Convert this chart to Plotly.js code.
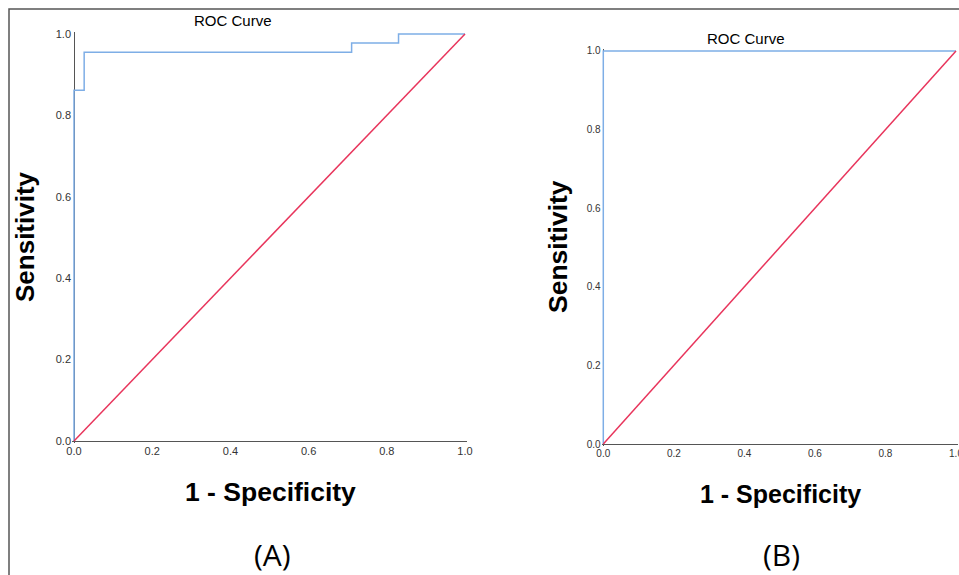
<!DOCTYPE html>
<html>
<head>
<meta charset="utf-8">
<script src="https://cdn.plot.ly/plotly-3.0.1.min.js"></script>
<style>html,body{margin:0;padding:0;background:#fff;}#chart{width:959px;height:575px;}</style>
</head>
<body>
<div id="chart"></div>
<script>
// ---- data ----
var panelLabels = ["(A)", "(B)"];
var chartTitle = "ROC Curve";
var xTitle = "1 - Specificity";
var yTitle = "Sensitivity";
var tickVals = [0, 0.2, 0.4, 0.6, 0.8, 1.0];

// Panel A ROC (step curve, drawn with 'hv')
var rocA_fpr = [0, 0, 0.026, 0.71, 0.83, 1.0];
var rocA_tpr = [0, 0.862, 0.955, 0.978, 1.0, 1.0];
// Panel B ROC
var rocB_fpr = [0, 0, 1.0];
var rocB_tpr = [0, 1.0, 1.0];
// Reference (chance) line
var ref_x = [0, 1];
var ref_y = [0, 1];

// ---- layout helpers ----
var W = 959, H = 575, PAD = 0.005;
function px(x) { return x / W; }
function py(y) { return 1 - y / H; }
// domain from pixel positions of value 0 and value 1
function xdom(p0, p1) { var s = p1 - p0; return [px(p0 - PAD * s), px(p1 + PAD * s)]; }
function ydom(p0, p1) { var s = p0 - p1; return [py(p0 + PAD * s), py(p1 - PAD * s)]; }

var blue = "#7eaee6", red = "#e8355c", axisCol = "#555555";

function axis(dom, anchor, fs) {
  return {
    domain: dom, anchor: anchor, range: [-PAD, 1 + PAD],
    showgrid: false, zeroline: true, zerolinecolor: axisCol, zerolinewidth: 1,
    showline: false, ticks: "", tickvals: tickVals, tickformat: ".1f",
    ticklabeloverflow: "allow",
    tickfont: {family: "Liberation Sans, Arial, sans-serif", size: fs, color: "#333"},
    fixedrange: true
  };
}

var traces = [
  {x: rocA_fpr, y: rocA_tpr, xaxis: "x", yaxis: "y", mode: "lines",
   line: {color: blue, width: 1.5, shape: "hv"}, hoverinfo: "skip"},
  {x: ref_x, y: ref_y, xaxis: "x", yaxis: "y", mode: "lines",
   line: {color: red, width: 1.5}, hoverinfo: "skip"},
  {x: rocB_fpr, y: rocB_tpr, xaxis: "x2", yaxis: "y2", mode: "lines",
   line: {color: blue, width: 1.5, shape: "hv"}, hoverinfo: "skip"},
  {x: ref_x, y: ref_y, xaxis: "x2", yaxis: "y2", mode: "lines",
   line: {color: red, width: 1.5}, hoverinfo: "skip"}
];

function ann(text, x, y, size, bold, opts) {
  var a = {text: bold ? "<b>" + text + "</b>" : text, xref: "paper", yref: "paper",
    x: px(x), y: py(y), xanchor: "center", yanchor: "middle", showarrow: false,
    font: {family: "Liberation Sans, Arial, sans-serif", size: size, color: "#000"}};
  if (opts) for (var k in opts) a[k] = opts[k];
  return a;
}

var layout = {
  width: W, height: H, margin: {l: 0, r: 0, t: 0, b: 0},
  paper_bgcolor: "#fff", plot_bgcolor: "#fff", showlegend: false,
  xaxis: axis(xdom(74, 465), "y", 11),
  yaxis: axis(ydom(441, 34), "x", 11),
  xaxis2: axis(xdom(603.3, 956), "y2", 10),
  yaxis2: axis(ydom(444, 51), "x2", 10),
  annotations: [
    ann(chartTitle, 233, 20, 15, false),
    ann(chartTitle, 746, 38, 15, false),
    ann(xTitle, 270, 492, 26.5, true),
    ann(yTitle, 25, 237, 26, true, {textangle: -90}),
    ann(xTitle, 780, 494, 25, true),
    ann(yTitle, 558, 247, 26.5, true, {textangle: -90}),
    ann(panelLabels[0], 272, 554, 30, false, {font: {family: "Open Sans, sans-serif", size: 30, color: "#000"}}),
    ann(panelLabels[1], 781, 554, 30, false, {font: {family: "Open Sans, sans-serif", size: 30, color: "#000"}})
  ],
  shapes: [
    {type: "rect", xref: "paper", yref: "paper", x0: px(9), x1: 1.02, y0: -0.02, y1: py(9),
     line: {color: "#555", width: 1.5}, fillcolor: "rgba(0,0,0,0)", layer: "below"}
  ]
};

Plotly.newPlot("chart", traces, layout, {displayModeBar: false, staticPlot: true});
</script>
</body>
</html>
